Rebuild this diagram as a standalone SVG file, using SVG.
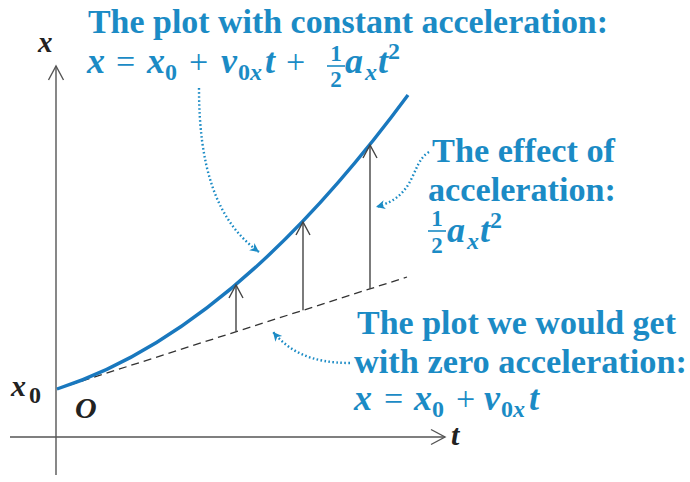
<svg xmlns="http://www.w3.org/2000/svg" width="690" height="482" viewBox="0 0 690 482">
<style>
.lbl{font-family:"Liberation Serif","Times New Roman",serif;font-weight:bold;fill:#1b8bc5;font-size:34px}
.m{font-family:"Liberation Serif","Times New Roman",serif;font-weight:bold;font-style:italic;fill:#1b8bc5;font-size:36px}
.mr{font-family:"Liberation Serif","Times New Roman",serif;font-weight:normal;font-style:normal;fill:#1b8bc5;font-size:34px}
.sub{font-size:24px;font-style:normal}
.subi{font-size:24px}
.fr{font-family:"Liberation Serif","Times New Roman",serif;font-weight:bold;fill:#1b8bc5;font-size:23px;text-anchor:middle}
.ax{font-family:"Liberation Serif","Times New Roman",serif;font-weight:bold;font-style:italic;fill:#222;font-size:30px}
.axis{stroke:#555;stroke-width:1.4;fill:none}
.arr{stroke:#444;stroke-width:1.4;fill:none}
.dot{stroke:#1b8bc5;stroke-width:2.4;fill:none;stroke-dasharray:1.6 2.4}
</style>
<defs>
<marker id="bh" markerWidth="10" markerHeight="10" refX="9" refY="5" orient="auto" markerUnits="userSpaceOnUse">
<path d="M0,0.5 L9,5 L0,9.5 L2.5,5 Z" fill="#1b8bc5"/>
</marker>
</defs>
<g id="axes">
<line class="axis" x1="56" y1="475" x2="56" y2="66"/>
<polyline class="axis" points="48.5,80 56,66 63.5,80"/>
<line class="axis" x1="10" y1="437" x2="445" y2="437"/>
<polyline class="axis" points="431,429.5 445,437 431,444.5"/>
<text class="ax" x="38" y="52" style="font-size:29px">x</text>
<text class="ax" x="451" y="445">t</text>
<text class="ax" x="75" y="418">O</text>
<text class="ax" x="11" y="396" style="font-size:30px">x<tspan class="sub" dy="7" x="29">0</tspan></text>
</g>
<g id="zero-line">
<line x1="57" y1="389" x2="407" y2="277" stroke="#333" stroke-width="1.3" stroke-dasharray="8 5"/>
</g>
<g id="curve">
<path d="M57,389 Q232.5,332.8 408,95" stroke="#1978be" stroke-width="3.4" fill="none"/>
</g>
<g id="effect-arrows">
<line class="arr" x1="236" y1="331.7" x2="236" y2="285"/>
<polyline class="arr" points="229,298 236,285 243,298"/>
<line class="arr" x1="303" y1="310.3" x2="303" y2="222"/>
<polyline class="arr" points="296,235 303,222 310,235"/>
<line class="arr" x1="370" y1="288.8" x2="370" y2="145"/>
<polyline class="arr" points="363,158 370,145 377,158"/>
</g>
<g id="connectors">
<path class="dot" d="M199,88 C199,165 215,220 259,252" marker-end="url(#bh)"/>
<path class="dot" d="M429,152 C410,163 418,196 376,207" marker-end="url(#bh)"/>
<path class="dot" d="M350,363 C312,363 290,352 273,332" marker-end="url(#bh)"/>
</g>
<g id="label-constant">
<text class="lbl" x="88" y="33" textLength="520" lengthAdjust="spacingAndGlyphs">The plot with constant acceleration:</text>
<text class="m" y="73"><tspan x="87">x</tspan><tspan class="mr" x="116">=</tspan><tspan x="147">x</tspan><tspan class="sub" x="165" dy="7">0</tspan><tspan class="mr" x="189" dy="-7">+</tspan><tspan x="221">v</tspan><tspan class="sub" x="238" dy="7">0</tspan><tspan class="subi" x="250">x</tspan><tspan x="265" dy="-7">t</tspan><tspan class="mr" x="286">+</tspan><tspan x="345">a</tspan><tspan class="subi" x="365" dy="7">x</tspan><tspan x="378" dy="-7">t</tspan><tspan class="sub" x="388" dy="-14">2</tspan></text>
<text class="fr" x="336" y="61">1</text>
<line x1="327" y1="66" x2="345" y2="66" stroke="#1b8bc5" stroke-width="1.6"/>
<text class="fr" x="336" y="87">2</text>
</g>
<g id="label-effect">
<text class="lbl" x="432" y="162" textLength="183" lengthAdjust="spacingAndGlyphs">The effect of</text>
<text class="lbl" x="428" y="201" textLength="188" lengthAdjust="spacingAndGlyphs">acceleration:</text>
<text class="fr" x="437" y="226">1</text>
<line x1="428" y1="231" x2="446" y2="231" stroke="#1b8bc5" stroke-width="1.6"/>
<text class="fr" x="437" y="253">2</text>
<text class="m" y="242"><tspan x="447">a</tspan><tspan class="subi" x="467" dy="7">x</tspan><tspan x="480" dy="-7">t</tspan><tspan class="sub" x="490" dy="-14">2</tspan></text>
</g>
<g id="label-zero">
<text class="lbl" x="357" y="334" textLength="319" lengthAdjust="spacingAndGlyphs">The plot we would get</text>
<text class="lbl" x="354" y="373" textLength="333" lengthAdjust="spacingAndGlyphs">with zero acceleration:</text>
<text class="m" y="410"><tspan x="354">x</tspan><tspan class="mr" x="384">=</tspan><tspan x="414">x</tspan><tspan class="sub" x="432" dy="7">0</tspan><tspan class="mr" x="456" dy="-7">+</tspan><tspan x="484">v</tspan><tspan class="sub" x="501" dy="7">0</tspan><tspan class="subi" x="513">x</tspan><tspan x="529" dy="-7">t</tspan></text>
</g>
</svg>
